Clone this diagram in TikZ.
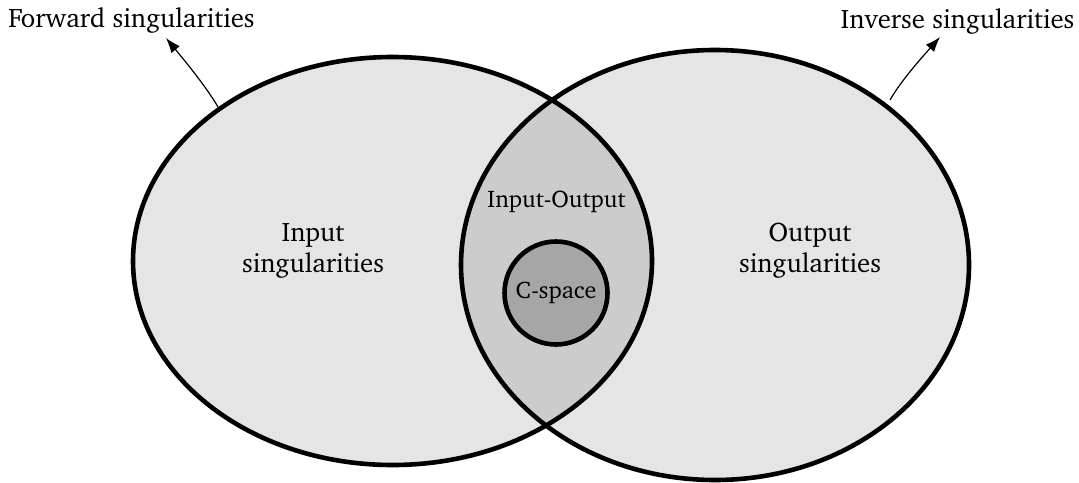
\documentclass[tikz,border=0pt]{standalone}
\usepackage[T1]{fontenc}
\usepackage{charter}
\usetikzlibrary{arrows.meta}
\tikzset{
  setborder/.style={draw=black, line width=2.3pt},
  lbl/.style={font=\fontsize{13.4}{15.5}\selectfont, align=center, inner sep=0pt},
  smalllbl/.style={font=\fontsize{12}{14}\selectfont, align=center, inner sep=0pt},
  pointer/.style={draw=black, line width=0.6pt, -{Latex[length=7.5pt,width=5.5pt]}},
}
\begin{document}
\begin{tikzpicture}[x=0.5pt,y=-0.5pt]
\useasboundingbox (0,0) rectangle (1079,482);
% set fills
\fill[gray!20] (392.5,261) ellipse [x radius=259.5, y radius=204];
\fill[gray!20] (715,265) ellipse [x radius=254, y radius=215];
\begin{scope}
  \clip (392.5,261) ellipse [x radius=259.5, y radius=204];
  \fill[gray!40] (715,265) ellipse [x radius=254, y radius=215];
\end{scope}
% outlines
\draw[setborder] (392.5,261) ellipse [x radius=259.5, y radius=204];
\draw[setborder] (715,265) ellipse [x radius=254, y radius=215];
% C-space
\node[circle, setborder, fill=gray!70, minimum size=51.5pt, inner sep=0pt, smalllbl] (cspace) at (556,293) {C-space};
% labels
\node[smalllbl] (io) at (556.5,202) {Input-Output};
\node[lbl] (ins) at (313,251) {Input\\singularities};
\node[lbl] (outs) at (810,251) {Output\\singularities};
\node[lbl] (fwd) at (131.5,20) {Forward singularities};
\node[lbl] (inv) at (957.5,21) {Inverse singularities};
% pointers
\coordinate (fs) at (218,107);
\coordinate (ft) at (166,38);
\coordinate (is) at (890,100);
\coordinate (it) at (940,37);
\draw[pointer] (fs) .. controls (206,86) and (180,55) .. (ft);
\draw[pointer] (is) .. controls (902,79) and (925,54) .. (it);
\end{tikzpicture}
\end{document}
